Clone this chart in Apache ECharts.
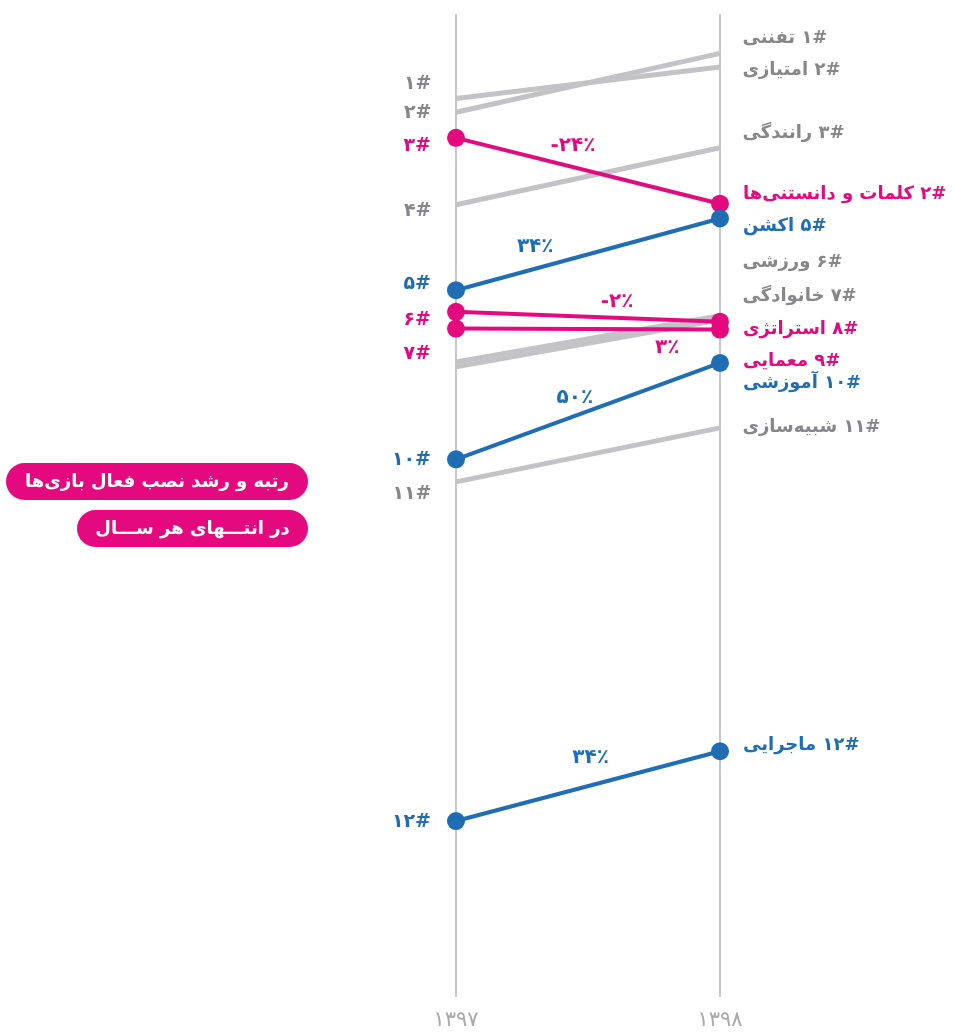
<!DOCTYPE html>
<html>
<head>
<meta charset="utf-8">
<script src="https://cdn.jsdelivr.net/npm/echarts@6/dist/echarts.min.js"></script>
<style>
  html, body { margin: 0; padding: 0; background: #ffffff; }
  #chart { width: 953px; height: 1033px; }
</style>
</head>
<body>
<div id="chart"></div>
<script>
// Years on the two vertical axes
const years = ['۱۳۹۷', '۱۳۹۸'];

// Game genres, one slope line each
const genres = ['تفننی', 'امتیازی', 'رانندگی', 'کلمات و دانستنی‌ها', 'اکشن', 'ورزشی',
                'خانوادگی', 'استراتژی', 'معمایی', 'آموزشی', 'شبیه‌سازی', 'ماجرایی'];

// Relative active-install level at the end of each year
const level1397 = [90.0, 91.4, 80.6, 87.4, 71.9, 64.6, 64.1, 69.7, 68.0, 54.7, 52.4, 17.9];
const level1398 = [96.0, 94.6, 86.4, 80.7, 79.2, 69.3, 68.9, 68.7, 67.9, 64.5, 57.9, 25.0];

// Rank labels shown beside each axis (empty = not labelled)
const rank1397 = ['۲', '۱', '۴', '۳', '۵', '', '', '۶', '۷', '۱۰', '۱۱', '۱۲'];
const rank1398 = ['۱', '۲', '۳', '۲', '۵', '۶', '۷', '۸', '۹', '۱۰', '۱۱', '۱۲'];

// Growth between the two years (highlighted genres only)
const growth = ['', '', '', '-۲۴٪', '۳۴٪', '', '', '-۲٪', '۳٪', '۵۰٪', '', '۳۴٪'];

// Colour group of each genre
const group = ['gray', 'gray', 'gray', 'pink', 'blue', 'gray', 'gray', 'pink', 'pink', 'blue', 'gray', 'blue'];

// ---- layout tweaks (pixels) ----
const leftLabelDy  = [1, -14, 6, 8, -6, 0, 0, 8, 26, 1, 12, 1];
const rightLabelDy = [-15, 3, -14, -9, 8, -53, -23, 8, 32, 20, -1, -6];
// position of growth label along the line (fraction) and vertical shift
const growthAt = [null, null, null, [0.443, -21], [0.30, -22], null, null,
                  [0.61, -16], [0.80, 18], [0.45, -18], null, [0.51, -28]];

const COLORS = { gray: '#c3c3c7', pink: '#e5097f', blue: '#1f6db5' };
const TEXT_COLORS = { gray: '#87878b', pink: '#e5097f', blue: '#1f6db5' };
const FONT = '"DejaVu Sans", "Noto Sans", sans-serif';

const chart = echarts.init(document.getElementById('chart'));

const series = genres.map((name, i) => {
  const g = group[i];
  const isGray = g === 'gray';
  const txt = TEXT_COLORS[g];
  return {
    name: name,
    type: 'line',
    z: isGray ? 2 : 3,
    symbol: 'circle',
    symbolSize: isGray ? 1 : 18,
    silent: true,
    animation: false,
    lineStyle: { color: COLORS[g], width: isGray ? 5 : 4, cap: 'butt' },
    itemStyle: { color: COLORS[g], opacity: 1 },
    data: [
      {
        value: level1397[i],
        label: {
          show: rank1397[i] !== '',
          position: 'left',
          distance: isGray ? 24 : 16,
          offset: [0, leftLabelDy[i]],
          formatter: () => rank1397[i] + '#',
          color: txt, fontSize: 19, fontWeight: 'bold', fontFamily: FONT
        }
      },
      {
        value: level1398[i],
        label: {
          show: true,
          position: 'right',
          distance: isGray ? 22 : 14,
          offset: [0, rightLabelDy[i]],
          formatter: () => '{w|' + name + '} {n|' + rank1398[i] + '#}',
          color: txt, fontSize: 18, fontWeight: 'bold', fontFamily: FONT,
          rich: {
            w: { color: txt, fontSize: 18, fontWeight: 'bold', fontFamily: FONT },
            n: { color: txt, fontSize: 18, fontWeight: 'bold', fontFamily: FONT }
          }
        }
      }
    ]
  };
});

chart.setOption({
  backgroundColor: '#ffffff',
  animation: false,
  grid: { left: 456, right: 233, top: 14, bottom: 36 },
  xAxis: {
    type: 'category',
    data: years,
    boundaryGap: false,
    axisLine: { show: false },
    axisTick: { show: false },
    splitLine: { show: true, lineStyle: { color: '#c8c8cc', width: 2 } },
    axisLabel: { color: '#a9a9ad', fontSize: 21, margin: 13, fontFamily: FONT }
  },
  yAxis: { type: 'value', min: 0, max: 100, show: false },
  series: series
});

// Title pills and growth percentages
const graphics = [];
function pill(x, y, w, h, text) {
  graphics.push({
    type: 'rect', z: 10,
    shape: { x: x, y: y, width: w, height: h, r: h / 2 },
    style: { fill: '#e5097f' }
  });
  graphics.push({
    type: 'text', z: 11,
    style: {
      text: text, x: x + w / 2, y: y + h / 2 + 1,
      align: 'center', verticalAlign: 'middle',
      fill: '#ffffff', font: 'bold 18px ' + FONT
    }
  });
}
pill(6, 463, 302, 37, 'رتبه و رشد نصب فعال بازی‌ها');
pill(77, 510, 231, 37, 'در انتـــهای هر ســـال');

genres.forEach((name, i) => {
  if (!growthAt[i]) return;
  const p0 = chart.convertToPixel({ gridIndex: 0 }, [0, level1397[i]]);
  const p1 = chart.convertToPixel({ gridIndex: 0 }, [1, level1398[i]]);
  const t = growthAt[i][0];
  const x = p0[0] + (p1[0] - p0[0]) * t;
  const y = p0[1] + (p1[1] - p0[1]) * t + growthAt[i][1];
  graphics.push({
    type: 'text', z: 12,
    style: {
      text: growth[i], x: x, y: y,
      align: 'center', verticalAlign: 'middle',
      fill: TEXT_COLORS[group[i]], font: 'bold 20px ' + FONT
    }
  });
});

chart.setOption({ graphic: graphics });
</script>
</body>
</html>
